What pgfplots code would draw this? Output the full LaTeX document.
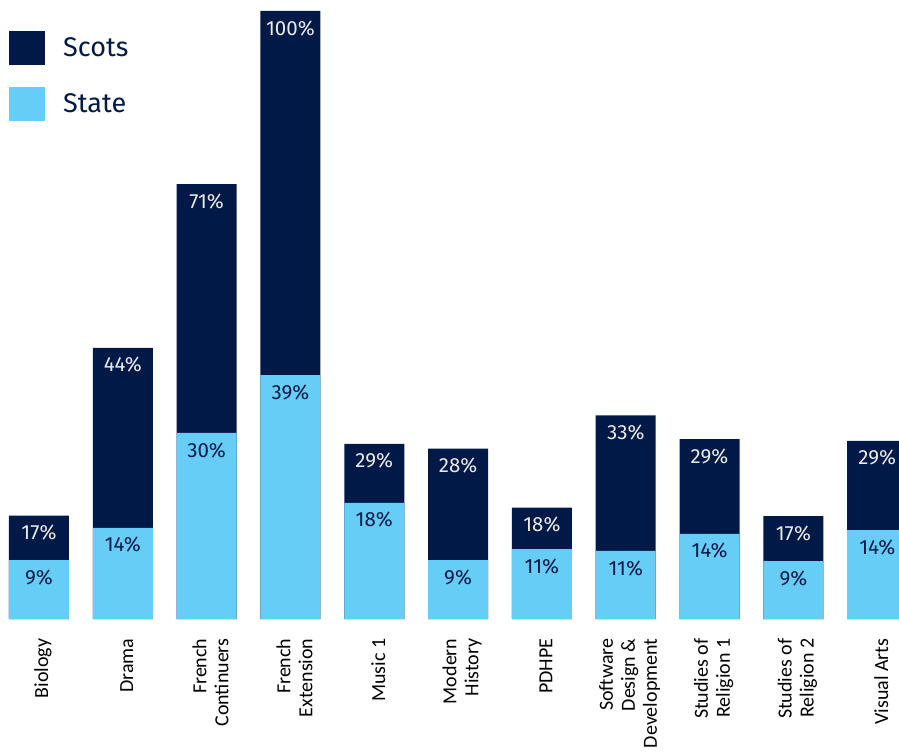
\documentclass[border=0pt]{standalone}
\usepackage{pgfplots}
\pgfplotsset{compat=1.18}
\usepackage{pgfplotstable}
\usepackage{fontspec}
\setmainfont{Fira Sans}
\newfontfamily\calibri{Carlito}

\definecolor{scots}{RGB}{0,25,71}
\definecolor{state}{RGB}{102,206,246}

% x = subject index, h = bar height, lab = printed value
\pgfplotstableread{
x h lab
0 17.0 17
1 44.6 44
2 71.5 71
3 100 100
4 28.8 29
5 28.0 28
6 18.3 18
7 33.5 33
8 29.6 29
9 16.9 17
10 29.3 29
}\scotsdata
\pgfplotstableread{
x h lab
0 9.7 9
1 15.0 14
2 30.6 30
3 40.1 39
4 19.1 18
5 9.7 9
6 11.5 11
7 11.2 11
8 14.0 14
9 9.5 9
10 14.6 14
}\statedata

\begin{document}
\begin{tikzpicture}
\useasboundingbox (0,-134pt) rectangle (899pt,619pt);
\begin{axis}[
    scale only axis,
    width=899pt, height=619pt,
    ymin=0, ymax=101.8,
    xmin=-0.465, xmax=10.26,
    ybar, bar width=60pt, bar shift=0pt,
    axis line style={draw=none},
    major tick length=0pt,
    ytick=\empty,
    xtick=data,
    xticklabels={Biology, Drama, French\\Continuers, French\\Extension, Music 1,
        Modern\\History, PDHPE, Software\\Design \&\\Development,
        Studies of\\Religion 1, Studies of\\Religion 2, Visual Arts},
    x tick label style={rotate=90, anchor=east, align=right,
        font=\calibri\fontsize{20}{22}\selectfont, xshift=-16pt, yshift=-4pt},
    point meta=explicit symbolic,
    nodes near coords={\pgfplotspointmeta\%},
    every node near coord/.append style={anchor=north, yshift=-6pt,
        font=\fontsize{20.5}{22}\selectfont},
    legend style={at={(0.01,0.950)}, anchor=north west, draw=none, fill=none,
        inner sep=0pt, row sep=22pt, column sep=18pt, text=scots,
        font=\fontsize{27}{32}\selectfont, nodes={inner sep=0pt}},
    legend cell align=left,
]
\addplot[draw=none, fill=scots,
    every node near coord/.append style={text=white!92!black},
    legend image code/.code={\fill[scots] (0pt,-17pt) rectangle (36pt,17pt);}]
    table[x=x, y=h, meta=lab] {\scotsdata};
\addlegendentry{Scots}
\addplot[draw=none, fill=state,
    every node near coord/.append style={text=scots},
    legend image code/.code={\fill[state] (0pt,-17pt) rectangle (36pt,17pt);}]
    table[x=x, y=h, meta=lab] {\statedata};
\addlegendentry{State}
\end{axis}
\end{tikzpicture}
\end{document}
